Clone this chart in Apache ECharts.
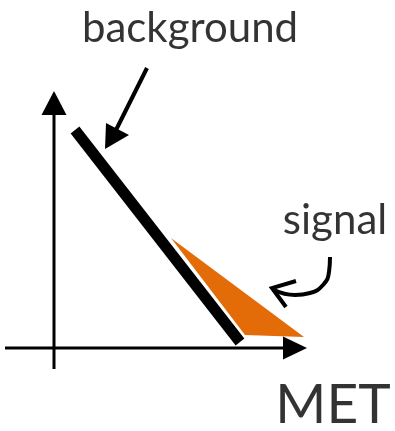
<!DOCTYPE html>
<html>
<head>
<meta charset="utf-8">
<script src="https://cdn.jsdelivr.net/npm/echarts@6/dist/echarts.min.js"></script>
<style>
  html, body { margin: 0; padding: 0; background: #fff; }
  #main { width: 395px; height: 431px; }
</style>
</head>
<body>
<div id="main"></div>
<script>
// diagram coordinates (x right, y down)
const yAxisLine = [[54, 369], [54, 112]];
const xAxisLine = [[5, 348], [286, 348]];
const backgroundLine = [[75, 130], [240, 342]];
const bgPointer = [[147, 68], [116, 130]];
const signalCurve = [[330, 257], [329, 272], [323, 285], [310, 293], [295, 295], [274, 290]];
const signalHead = [[296, 281], [272, 288], [286, 307]];

const signalArea = [[171, 238], [304, 337], [245, 335]];
const arrowHeads = [
    [[54, 91], [41.5, 115], [66.5, 115]],      // y axis
    [[307, 348], [283, 336.5], [283, 359.5]],  // x axis
    [[105, 149], [106, 123], [129, 135]],      // background pointer
];

const labels = ['background', 'signal', 'MET'];
const labelPos = [[190, 28], [335, 220], [333, 405]];
const labelSize = [42, 42, 55];

const chart = echarts.init(document.getElementById('main'));

function lineSeries(data, width, cap) {
    return {
        type: 'line',
        data: data,
        symbol: 'none',
        smooth: false,
        silent: true,
        lineStyle: { color: '#000', width: width, cap: cap || 'butt', join: 'miter' },
    };
}

function polySeries(polys, color) {
    return {
        type: 'custom',
        silent: true,
        data: polys.map((p, i) => [i]),
        renderItem: function(params, api) {
            const pts = polys[api.value(0)].map(p => api.coord(p));
            return {
                type: 'polygon',
                shape: { points: pts },
                style: { fill: color },
            };
        },
    };
}

const curve = lineSeries(signalCurve, 4, 'butt');
curve.smooth = 0.5;

chart.setOption({
    animation: false,
    grid: { left: 0, right: 0, top: 0, bottom: 0 },
    xAxis: { type: 'value', min: 0, max: 395, show: false },
    yAxis: { type: 'value', min: 0, max: 431, inverse: true, show: false },
    series: [
        polySeries([signalArea], '#e36c09'),
        lineSeries(yAxisLine, 3),
        lineSeries(xAxisLine, 3),
        lineSeries(backgroundLine, 11),
        lineSeries(bgPointer, 4),
        curve,
        lineSeries(signalHead, 4),
        polySeries(arrowHeads, '#000'),
        {
            type: 'scatter',
            silent: true,
            symbolSize: 0,
            data: labels.map((t, i) => ({
                name: t,
                value: labelPos[i],
                label: {
                    show: true,
                    position: 'inside',
                    formatter: '{b}',
                    fontFamily: 'Lato',
                    fontSize: labelSize[i],
                    color: '#000',
                },
            })),
        },
    ],
});
</script>
</body>
</html>
